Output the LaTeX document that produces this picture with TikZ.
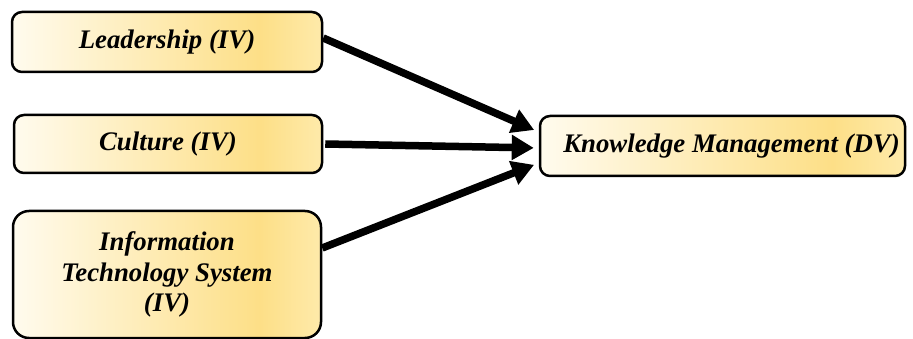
\documentclass[tikz,border=0pt]{standalone}
\usepackage{fontspec}
\setmainfont{Liberation Serif}
\usetikzlibrary{arrows.meta}
\definecolor{cA}{RGB}{255,251,238}
\definecolor{cB}{RGB}{253,223,135}
\definecolor{cC}{RGB}{254,234,170}
\pgfdeclarehorizontalshading{goldgrad}{100bp}{color(0bp)=(cA); color(25bp)=(cA); color(65bp)=(cB); color(75bp)=(cC); color(100bp)=(cC)}
\begin{document}
\begin{tikzpicture}[x=1pt,y=-1pt,
  varbox/.style={draw=black, line width=2.5pt, rounded corners=10pt, shading=goldgrad,
    align=center, inner sep=0pt,
    font=\fontsize{26.8}{31}\selectfont\bfseries\itshape},
  bigarrow/.style={line width=7.5pt, -{Triangle[length=22pt,width=24pt]}, shorten >=5pt}]
\useasboundingbox (0,0) rectangle (913,339);
\node[varbox, minimum width=310pt, minimum height=60pt] (lead) at (167,42) {Leadership (IV)};
\node[varbox, minimum width=308pt, minimum height=58pt] (cult) at (168,144) {Culture (IV)};
\node[varbox, rounded corners=16pt, minimum width=308pt, minimum height=127pt] (its) at (167,274.5) {Information\\Technology System\\[-1pt](IV)};
\node[varbox, minimum width=365pt, minimum height=60pt] (km) at (722.5,146) {\hspace*{18pt}Knowledge Management (DV)};
\draw[bigarrow] ([yshift=4pt]lead.east) -- ([yshift=14pt]km.west);
\draw[bigarrow] ([xshift=2pt]cult.east) -- ([yshift=-2pt]km.west);
\draw[bigarrow] ([yshift=26.5pt]its.east) -- ([yshift=-17pt]km.west);
\end{tikzpicture}
\end{document}
